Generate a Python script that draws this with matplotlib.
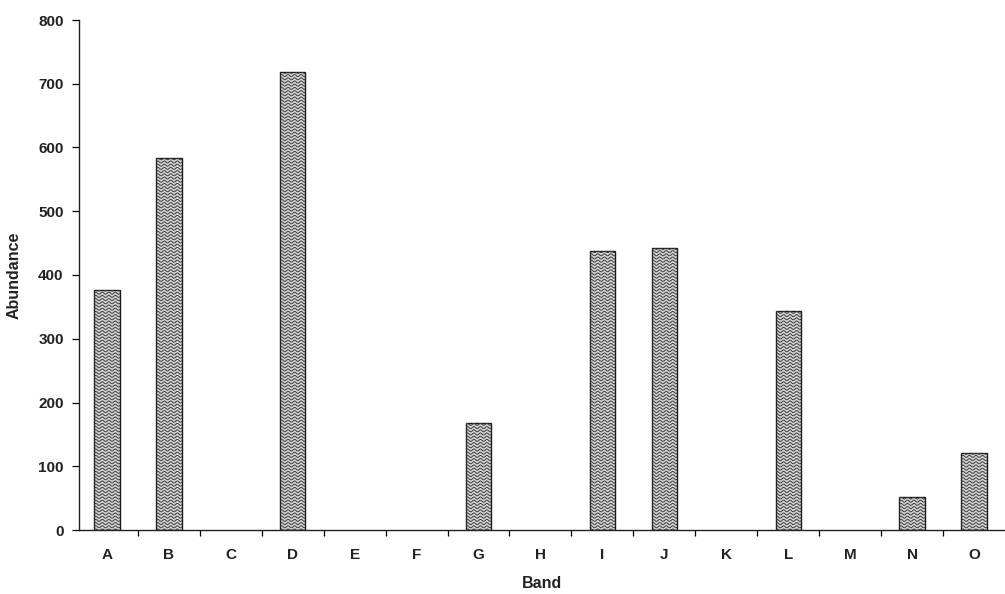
import numpy as np
import matplotlib
matplotlib.use("Agg")
import matplotlib.pyplot as plt

# band data
bands = ['A', 'B', 'C', 'D', 'E', 'F', 'G', 'H', 'I', 'J', 'K', 'L', 'M', 'N', 'O']
abundance = [376, 583, 0, 718, 0, 0, 168, 0, 437, 443, 0, 343, 0, 52, 121]

plt.rcParams['font.family'] = ['Liberation Sans', 'DejaVu Sans']

fig = plt.figure(figsize=(10.05, 5.94), dpi=100)
ax = fig.add_axes([79 / 1005, 1 - 530 / 594, 926 / 1005, 510 / 594])

x = np.arange(len(bands))
lw = [1.0 if v > 0 else 0 for v in abundance]
bars = ax.bar(x, abundance, width=0.41, color='#d4d4d4', edgecolor='#1a1a1a', linewidth=lw, zorder=2)

# wavy fill texture, clipped to each bar
px_x = 14.95 / 926   # data units per pixel in x
px_y = 800 / 510     # data units per pixel in y
for b in bars:
    h = b.get_height()
    if h <= 0:
        continue
    x0 = b.get_x()
    w = b.get_width()
    xs = np.linspace(x0, x0 + w, 80)
    wave = 1.0 * px_y * np.sin(2 * np.pi * (xs - x0) / (6.5 * px_x))
    for y0 in np.arange(0, h + 4 * px_y, 3.2 * px_y):
        ln, = ax.plot(xs, y0 + wave, color='#3a3a3a', lw=0.7, zorder=2.5)
        ln.set_clip_path(b)

ax.set_xlim(-0.45, len(bands) - 0.5)
ax.set_ylim(0, 800)
ax.set_yticks(np.arange(0, 801, 100))
ax.set_xticks(x)
ax.set_xticklabels(bands)
ax.set_xticks(np.arange(0.5, len(bands) - 0.5, 1), minor=True)
ax.tick_params(axis='x', which='major', length=0, pad=13, labelsize=11)
ax.tick_params(axis='x', which='minor', length=4, direction='out', width=0.9)
ax.tick_params(axis='y', length=5, direction='out', width=0.9, labelsize=11, pad=6)
for t in ax.get_xticklabels() + ax.get_yticklabels():
    t.set_fontweight('bold')
    t.set_color('#222222')

for s in ['top', 'right']:
    ax.spines[s].set_visible(False)
for s in ['left', 'bottom']:
    ax.spines[s].set_linewidth(1.0)
    ax.spines[s].set_color('#222222')

ax.set_xlabel('Band', fontsize=11.5, fontweight='bold', color='#222222', labelpad=10)
ax.set_ylabel('Abundance', fontsize=11.5, fontweight='bold', color='#222222', labelpad=12)

plt.savefig('out.png', dpi=100)
